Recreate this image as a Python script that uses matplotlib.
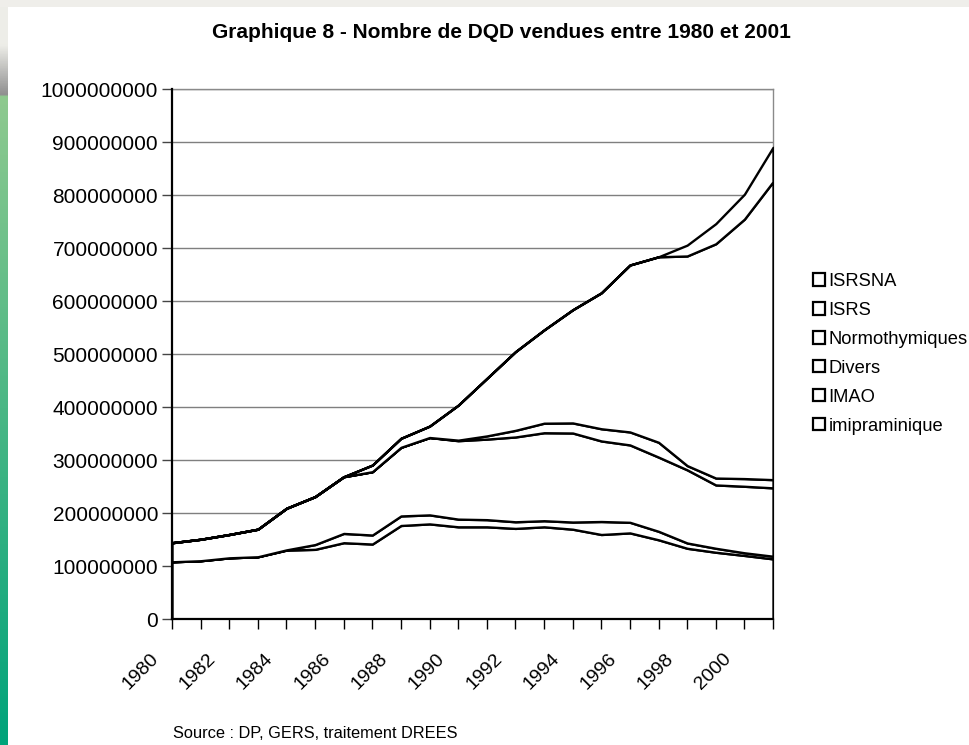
import numpy as np
import matplotlib
matplotlib.use('Agg')
import matplotlib.pyplot as plt
import matplotlib.transforms as mtransforms
from matplotlib import font_manager
from matplotlib.patches import Patch, Rectangle
from matplotlib.ticker import FuncFormatter, MultipleLocator

# Nombre de DQD vendues (en millions)
years = list(range(1980, 2002))
imipraminique = [108.5, 110.5, 116, 118, 130.5, 132, 144.5, 142, 177, 180, 174.5,
                 174.5, 171.5, 174.5, 170, 160, 163, 150, 134, 126.5, 120.5, 114]
imao = [0, 0, 0, 0, 0.5, 9, 17.5, 17, 18, 17, 14.5,
        13.5, 12.5, 11.5, 13.5, 24.5, 20, 16, 10, 7.5, 5, 5]
divers = [36, 40.5, 44, 52, 78.5, 90.5, 107, 119.5, 129.5, 146, 148,
          152, 160, 166, 168, 152, 146, 140, 138, 119.5, 125.5, 129]
normothymiques = [0, 0, 0, 0, 0, 0, 0, 0, 0, 0, 1,
                  6, 12.5, 18, 19, 23, 24.5, 28, 8, 13, 14.5, 15.5]
isrs = [0, 0, 0, 0, 0, 0, 0, 12.5, 17, 21.5, 66,
        108.5, 148.5, 176, 213.5, 256.5, 315, 350, 395.5, 442, 489.5, 562]
isrsna = [0, 0, 0, 0, 0, 0, 0, 0, 0, 0, 0,
          0, 0, 0, 0, 0, 0, 0, 20.5, 38, 47, 65]

series_names = ['imipraminique', 'IMAO', 'Divers', 'Normothymiques', 'ISRS', 'ISRSNA']
series = [imipraminique, imao, divers, normothymiques, isrs, isrsna]
year_labels = [str(y) for y in years if y % 2 == 0 and y <= 2000]

names = {f.name for f in font_manager.fontManager.ttflist}
narrow = 'Liberation Sans Narrow' if 'Liberation Sans Narrow' in names else None
plt.rcParams['font.family'] = ['Liberation Sans', 'DejaVu Sans']

W, H = 969, 745
fig = plt.figure(figsize=(W / 100, H / 100), dpi=100)
fig.patch.set_facecolor('white')

# bordure de la diapositive
fig.patches.append(Rectangle((0, 1 - 7 / H), 1, 7 / H, transform=fig.transFigure,
                             facecolor='#efeeea', edgecolor='none', zorder=0))
strip = fig.add_axes([0, 0, 8 / W, 1 - 7 / H])
rows = np.linspace(0, 1, 300)
grey_top = np.array([0.93, 0.93, 0.91])
grey_dark = np.array([0.55, 0.55, 0.55])
green_top = np.array([0.56, 0.79, 0.56])
green_bot = np.array([0.0, 0.64, 0.48])
cols = []
for r in rows:
    if r < 0.05:
        c = grey_top
    elif r < 0.12:
        t = (r - 0.05) / 0.07
        c = grey_top * (1 - t) + grey_dark * t
    else:
        t = (r - 0.12) / 0.88
        c = green_top * (1 - t) + green_bot * t
    cols.append(c)
strip.imshow(np.array(cols)[:, None, :], aspect='auto', extent=[0, 1, 0, 1])
strip.axis('off')

ax = fig.add_axes([172 / W, 1 - 619.3 / H, (773 - 172) / W, (619.3 - 89.3) / H])
x = np.arange(len(years))
ax.stackplot(x, *[np.array(s) * 1e6 for s in series],
             colors=['white'] * len(series), edgecolor='black', linewidth=1.7)

ax.set_xlim(0, len(years) - 1)
ax.set_ylim(0, 1e9)
ax.yaxis.set_major_locator(MultipleLocator(1e8))
ax.yaxis.set_major_formatter(FuncFormatter(lambda v, p: f'{v:.0f}'))
ax.yaxis.grid(True, color='#7f7f7f', linewidth=1)
ax.set_axisbelow(True)

# une graduation par année, une étiquette tous les deux ans (décalée comme Excel)
ax.set_xticks(x)
ax.set_xticklabels([])
shift = mtransforms.ScaledTranslation(-10 / 100, -31 / 100, fig.dpi_scale_trans)
for lab in year_labels:
    ax.text(years.index(int(lab)), 0, lab, transform=ax.get_xaxis_transform() + shift,
            rotation=45, ha='right', va='top', fontsize=14, clip_on=False)

ax.tick_params(axis='y', length=7, width=1, color='#444444', pad=3, labelsize=15)
ax.tick_params(axis='x', length=7, width=1, color='black')

for side in ['left', 'bottom']:
    ax.spines[side].set_color('black')
    ax.spines[side].set_linewidth(1.6)
    ax.spines[side].set_zorder(3)
for side in ['right', 'top']:
    ax.spines[side].set_color('#8a8a8a')
    ax.spines[side].set_linewidth(1)
    ax.spines[side].set_zorder(0.6)

handles = [Patch(facecolor='white', edgecolor='black', linewidth=1.6, label=n)
           for n in series_names[::-1]]
fig.legend(handles=handles, loc='upper left', bbox_to_anchor=(813 / W, 1 - 273 / H),
           frameon=False, fontsize=13.2, handlelength=0.65, handleheight=0.65,
           handletextpad=0.2, labelspacing=0.65, borderpad=0, borderaxespad=0)

if narrow:
    title_kw = dict(family=narrow, fontsize=16.5)
    source_kw = dict(family=narrow, fontsize=14)
else:
    title_kw = dict(fontsize=15)
    source_kw = dict(fontsize=11.8)
fig.text(501 / W, 1 - 32 / H, 'Graphique 8 - Nombre de DQD vendues entre 1980 et 2001',
         ha='center', va='center', fontweight='bold', **title_kw)
fig.text(173 / W, 1 - 733 / H, 'Source : DP, GERS, traitement DREES',
         ha='left', va='center', **source_kw)

fig.savefig('out.png', dpi=100)
